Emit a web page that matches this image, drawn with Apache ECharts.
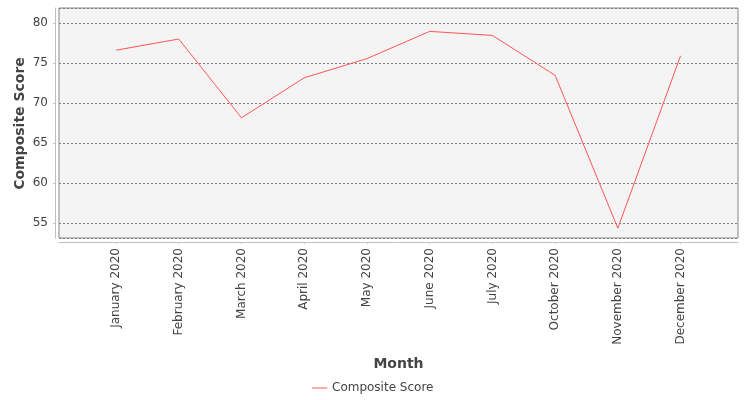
<!DOCTYPE html>
<html>
<head>
<meta charset="utf-8">
<script src="https://cdn.jsdelivr.net/npm/echarts@6/dist/echarts.min.js"></script>
<style>
  html, body { margin: 0; padding: 0; background: #fff; }
  #chart { width: 750px; height: 400px; }
</style>
</head>
<body>
<div id="chart"></div>
<script>
// Data
const months = ['January 2020', 'February 2020', 'March 2020', 'April 2020', 'May 2020',
    'June 2020', 'July 2020', 'October 2020', 'November 2020', 'December 2020'];
const compositeScore = [76.6, 78.0, 68.15, 73.15, 75.55, 78.95, 78.45, 73.45, 54.35, 75.9];
const yMin = 53.125;
const yMax = 81.875;

const font = 'DejaVu Sans';
const textColor = '#444444';
const axisGray = '#c0c0c0';

const chart = echarts.init(document.getElementById('chart'), null, { renderer: 'canvas' });

chart.setOption({
    animation: false,
    textStyle: { fontFamily: font },
    grid: [
        // plot frame with background and grid lines
        { left: 59, top: 8, width: 679, height: 230, show: true,
          backgroundColor: '#f4f4f4', borderColor: '#888888', borderWidth: 1 },
        // inner area for the categories (JFreeChart style margins)
        { left: 84.65, top: 8, width: 627.3, height: 230 }
    ],
    xAxis: [
        {
            gridIndex: 0, type: 'value', min: 0, max: 1, offset: 4,
            axisLine: { show: true, onZero: false, lineStyle: { color: axisGray } },
            axisTick: { show: false }, axisLabel: { show: false }, splitLine: { show: false }
        },
        {
            gridIndex: 1, type: 'category', data: months, boundaryGap: true, offset: 4,
            axisLine: { show: false, onZero: false },
            axisTick: { show: true, alignWithLabel: true, length: 2, lineStyle: { color: axisGray } },
            axisLabel: { rotate: 90, margin: 6, color: textColor, fontSize: 12, fontFamily: font },
            splitLine: { show: false }
        }
    ],
    yAxis: [
        {
            gridIndex: 0, type: 'value', min: yMin, max: yMax, minInterval: 5, maxInterval: 5,
            offset: 4,
            axisLine: { show: true, onZero: false, lineStyle: { color: axisGray } },
            axisTick: { show: true, length: 2, lineStyle: { color: axisGray } },
            axisLabel: { color: textColor, fontSize: 12, fontFamily: font, margin: 7,
                         showMinLabel: false, showMaxLabel: false },
            splitLine: { show: true, lineStyle: { color: '#808080', type: [2, 2], width: 1 } }
        },
        {
            gridIndex: 1, type: 'value', min: yMin, max: yMax, show: false,
            splitLine: { show: false }
        }
    ],
    legend: {
        data: ['Composite Score'],
        left: 312, top: 382, padding: 0,
        icon: 'rect', itemWidth: 15, itemHeight: 1, itemGap: 4,
        textStyle: { color: textColor, fontSize: 12, fontFamily: font }
    },
    graphic: [
        {
            type: 'text', x: 20, y: 123.5, rotation: Math.PI / 2,
            style: { text: 'Composite Score', fill: textColor, font: 'bold 14px "DejaVu Sans"',
                     align: 'center', verticalAlign: 'middle' }
        },
        {
            type: 'text', x: 398.5, y: 364,
            style: { text: 'Month', fill: textColor, font: 'bold 14px "DejaVu Sans"',
                     align: 'center', verticalAlign: 'middle' }
        }
    ],
    series: [{
        name: 'Composite Score',
        type: 'line',
        xAxisIndex: 1, yAxisIndex: 1,
        data: compositeScore,
        showSymbol: false, symbol: 'none',
        lineStyle: { color: '#ff5555', width: 1 },
        itemStyle: { color: '#ff5555' }
    }]
});
</script>
</body>
</html>
